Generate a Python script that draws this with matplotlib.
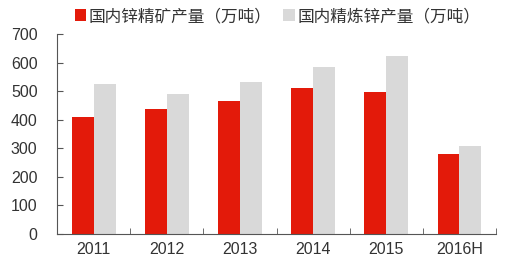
import numpy as np
import matplotlib.pyplot as plt

plt.rcParams['font.family'] = ['Liberation Sans', 'Noto Sans CJK SC', 'DejaVu Sans']

years = ["2011", "2012", "2013", "2014", "2015", "2016H"]
concentrate = [410, 437, 465, 511, 498, 279]
refined = [525, 490, 532, 584, 623, 308]

fig = plt.figure(figsize=(5.2, 2.77), dpi=100)
ax = fig.add_axes([0.1096, 0.155, 0.8444, 0.722])

x = np.arange(len(years))
w = 0.3
ax.bar(x - w / 2, concentrate, w, color="#E31A0A", label="国内锌精矿产量（万吨）")
ax.bar(x + w / 2, refined, w, color="#D9D9D9", label="国内精炼锌产量（万吨）")

ax.set_xlim(-0.5, len(years) - 0.5)
ax.set_ylim(0, 700)
ax.set_yticks(range(0, 701, 100))
ax.set_xticks(x)
ax.set_xticklabels(years)
ax.set_xticks(np.arange(-0.5, len(years), 1), minor=True)
ax.tick_params(axis="x", which="major", length=0, labelsize=11.5, pad=6, labelcolor="#333333")
ax.tick_params(axis="x", which="minor", direction="in", length=4, color="#555555")
ax.tick_params(axis="y", direction="in", length=4, labelsize=11.5, pad=14, color="#555555",
               labelcolor="#333333")
for s in ["top", "right"]:
    ax.spines[s].set_visible(False)
for s in ["left", "bottom"]:
    ax.spines[s].set_color("#555555")

ax.legend(loc="lower left", bbox_to_anchor=(0.04, 1.05), ncol=2, frameon=False,
          fontsize=12, handlelength=0.7, handleheight=0.7, handletextpad=0.15,
          columnspacing=0.7, borderaxespad=0, borderpad=0, labelcolor="#333333")

fig.savefig("out.png")
